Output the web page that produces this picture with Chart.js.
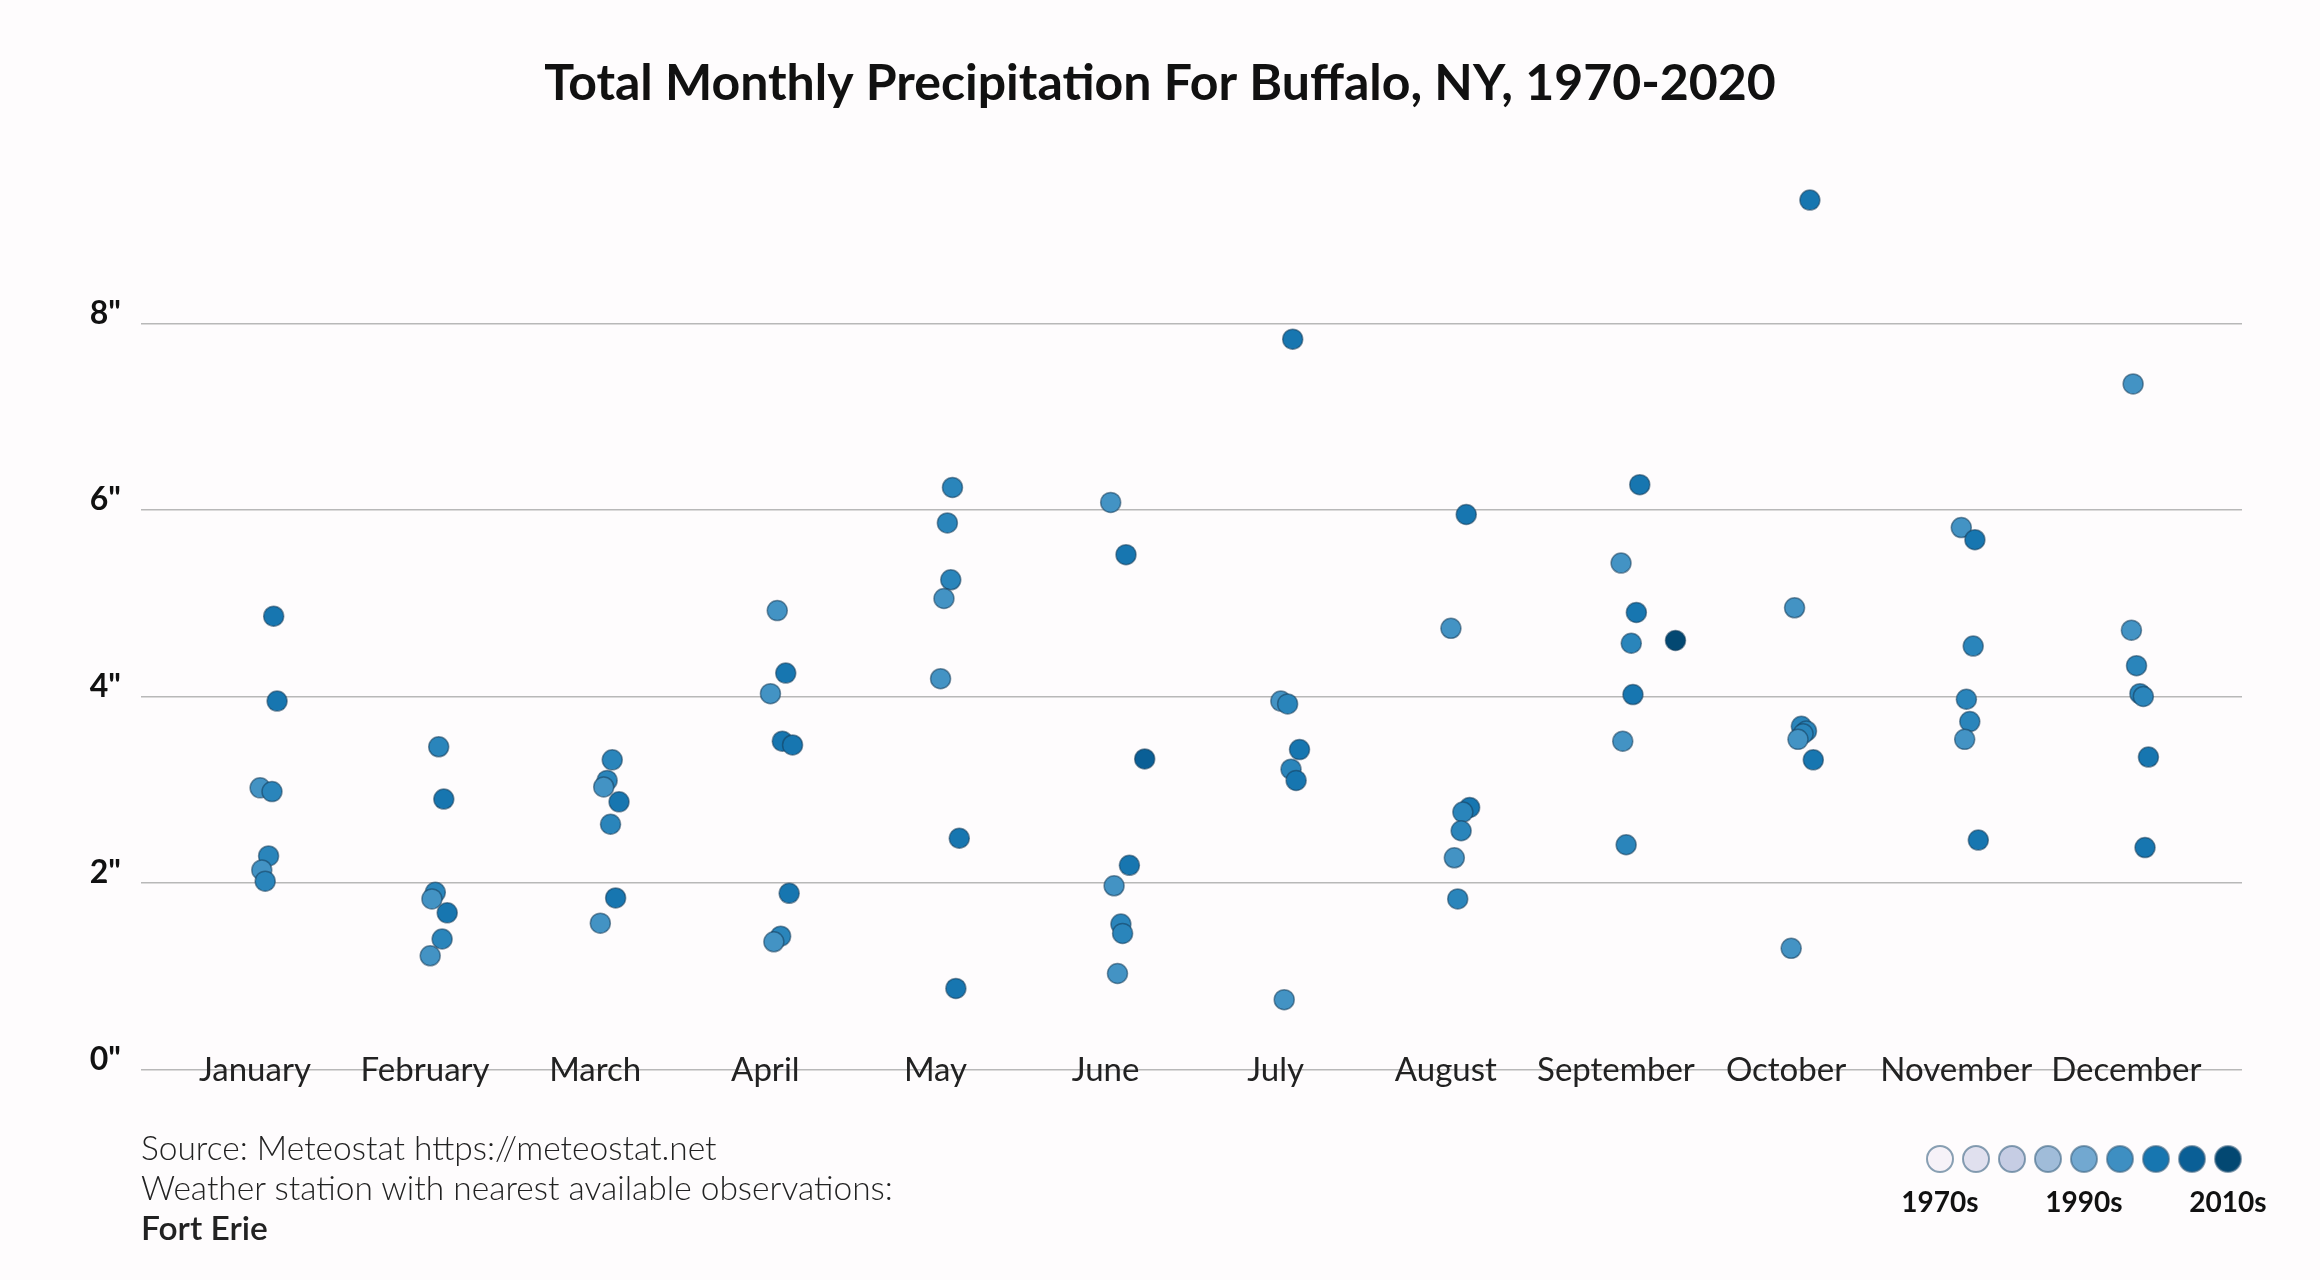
<!DOCTYPE html>
<html>
<head>
<meta charset="utf-8">
<script src="https://cdn.jsdelivr.net/npm/chart.js@4.4.1/dist/chart.umd.min.js"></script>
<style>
    body { margin: 0; background: #fefcfd; }
    #wrap { position: relative; width: 2320px; height: 1280px; }
    #note {
        position: absolute; left: 141px; top: 1127px;
        font-family: Lato, "Noto Sans", sans-serif; font-weight: 300;
        font-size: 33.5px; line-height: 40px; color: #222;
    }
    #note b { font-weight: 600; }
</style>
</head>
<body>
<div id="wrap">
    <canvas id="precipChart" width="2320" height="1280"></canvas>
    <div id="note">
        Source: Meteostat https://meteostat.net<br>
        Weather station with nearest available observations:<br>
        <b>Fort Erie</b>
    </div>
</div>
<script>
const MONTHS = ['January', 'February', 'March', 'April', 'May', 'June',
    'July', 'August', 'September', 'October', 'November', 'December'];

// monthly totals in inches, one list per month
const PRECIP = [
    [4.86, 3.95, 3.02, 2.98, 2.29, 2.14, 2.02],
    [3.46, 2.90, 1.90, 1.83, 1.68, 1.40, 1.22],
    [3.32, 3.10, 3.03, 2.87, 2.63, 1.84, 1.57],
    [4.92, 4.25, 4.03, 3.52, 3.48, 1.89, 1.43, 1.37],
    [6.24, 5.86, 5.25, 5.05, 4.19, 2.48, 0.87],
    [6.08, 5.52, 3.33, 2.19, 1.97, 1.56, 1.46, 1.03],
    [7.83, 3.95, 3.92, 3.43, 3.22, 3.10, 0.75],
    [5.95, 4.73, 2.81, 2.76, 2.56, 2.27, 1.83],
    [6.27, 5.43, 4.90, 4.60, 4.57, 4.02, 3.52, 2.41],
    [9.32, 4.95, 3.68, 3.63, 3.60, 3.54, 3.32, 1.30],
    [5.81, 5.68, 4.54, 3.97, 3.73, 3.54, 2.46],
    [7.35, 4.71, 4.33, 4.03, 4.00, 3.35, 2.38]
];

// horizontal jitter (in month units) as seen in the picture
const JITTER = [
    [0.11, 0.13, 0.03, 0.10, 0.08, 0.04, 0.06],
    [0.08, 0.11, 0.06, 0.04, 0.13, 0.10, 0.03],
    [0.10, 0.07, 0.05, 0.14, 0.09, 0.12, 0.03],
    [0.07, 0.12, 0.03, 0.10, 0.16, 0.14, 0.09, 0.05],
    [0.10, 0.07, 0.09, 0.05, 0.03, 0.14, 0.12],
    [0.03, 0.12, 0.23, 0.14, 0.05, 0.09, 0.10, 0.07],
    [0.10, 0.03, 0.07, 0.14, 0.09, 0.12, 0.05],
    [0.12, 0.03, 0.14, 0.10, 0.09, 0.05, 0.07],
    [0.14, 0.03, 0.12, 0.35, 0.09, 0.10, 0.04, 0.06],
    [0.14, 0.05, 0.09, 0.12, 0.10, 0.07, 0.16, 0.03],
    [0.03, 0.11, 0.10, 0.06, 0.08, 0.05, 0.13],
    [0.04, 0.03, 0.06, 0.08, 0.10, 0.13, 0.11]
];

// decade shade step of each point (0 = lightest seen, 4 = darkest)
const SHADE = [
    [2, 2, 0, 1, 1, 0, 1],
    [1, 2, 1, 0, 2, 1, 0],
    [1, 1, 0, 2, 1, 2, 0],
    [0, 2, 0, 2, 2, 2, 1, 0],
    [1, 1, 1, 0, 0, 2, 2],
    [0, 2, 3, 2, 0, 1, 1, 0],
    [2, 0, 1, 2, 1, 2, 0],
    [2, 0, 2, 1, 1, 0, 1],
    [2, 0, 2, 4, 1, 2, 0, 1],
    [2, 0, 1, 1, 1, 0, 2, 0],
    [0, 2, 1, 1, 1, 0, 2],
    [0, 0, 1, 1, 1, 2, 2]
];

const Y_TICKS = [0, 2, 4, 6, 8];
const LEGEND_LABELS = ['1970s', '', '', '', '1990s', '', '', '', '2010s'];

const SHADE_COLORS = ['#4393c4', '#2a85bb', '#1776b0', '#0a5f96', '#034872'];
const LEGEND_COLORS = ['#f6f2f8', '#e0e0ee', '#c6cde4', '#a0bcd9', '#72a8d0',
    '#3e8fc2', '#1776b0', '#0a5f96', '#034872'];

const points = [];
const colors = [];
PRECIP.forEach((vals, m) => {
    vals.forEach((v, i) => {
        points.push({ x: m + JITTER[m][i], y: v });
        colors.push(SHADE_COLORS[SHADE[m][i]]);
    });
});

// decade colour key bottom right
const decadeKey = {
    id: 'decadeKey',
    afterDraw(chart) {
        const ctx = chart.ctx;
        ctx.save();
        LEGEND_COLORS.forEach((c, i) => {
            const x = 1940 + i * 36;
            ctx.beginPath();
            ctx.arc(x, 1159, 13, 0, Math.PI * 2);
            ctx.fillStyle = c;
            ctx.fill();
            ctx.lineWidth = 2;
            ctx.strokeStyle = 'rgba(60,100,130,0.6)';
            ctx.stroke();
            if (LEGEND_LABELS[i]) {
                ctx.fillStyle = '#111';
                ctx.font = 'bold 28px Lato, "Noto Sans", sans-serif';
                ctx.textAlign = 'center';
                ctx.textBaseline = 'middle';
                ctx.fillText(LEGEND_LABELS[i], x, 1203);
            }
        });
        ctx.restore();
    }
};

const ctx = document.getElementById('precipChart').getContext('2d');
new Chart(ctx, {
    type: 'scatter',
    data: {
        datasets: [{
            data: points,
            backgroundColor: colors,
            borderColor: 'rgba(20,60,90,0.55)',
            borderWidth: 1.5,
            pointRadius: 10,
            pointHoverRadius: 10
        }]
    },
    options: {
        responsive: false,
        devicePixelRatio: 1,
        animation: false,
        // equal side padding keeps the title centred on the page
        layout: { padding: { left: 78, right: 78, top: 0, bottom: 0 } },
        plugins: {
            legend: { display: false },
            tooltip: { enabled: false },
            title: {
                display: true,
                text: 'Total Monthly Precipitation For Buffalo, NY, 1970-2020',
                color: '#111',
                font: { family: 'Lato, "Noto Sans", sans-serif', size: 50, weight: 'bold' },
                padding: { top: 54, bottom: 60 }
            }
        },
        scales: {
            x: {
                type: 'linear',
                min: -0.67,
                max: 11.68,
                grid: { display: false, drawTicks: false },
                border: { display: false },
                afterBuildTicks: s => { s.ticks = MONTHS.map((m, i) => ({ value: i })); },
                afterFit: s => { s.height = 210.4; },
                ticks: {
                    autoSkip: false,
                    maxRotation: 0,
                    mirror: true,
                    padding: -21,
                    color: '#222',
                    font: { family: 'Lato, "Noto Sans", sans-serif', size: 33 },
                    callback: v => MONTHS[v]
                }
            },
            y: {
                min: 0,
                max: 9.6,
                grid: { color: '#b8b8b8', lineWidth: 1.5, drawTicks: false },
                border: { display: false },
                afterBuildTicks: s => { s.ticks = Y_TICKS.map(v => ({ value: v })); },
                afterFit: s => { s.width = 63; },
                ticks: {
                    padding: 20,
                    labelOffset: -10,
                    color: '#111',
                    font: { family: 'Lato, "Noto Sans", sans-serif', size: 32, weight: 'bold' },
                    callback: v => v + '"'
                }
            }
        }
    },
    plugins: [decadeKey]
});
</script>
</body>
</html>
